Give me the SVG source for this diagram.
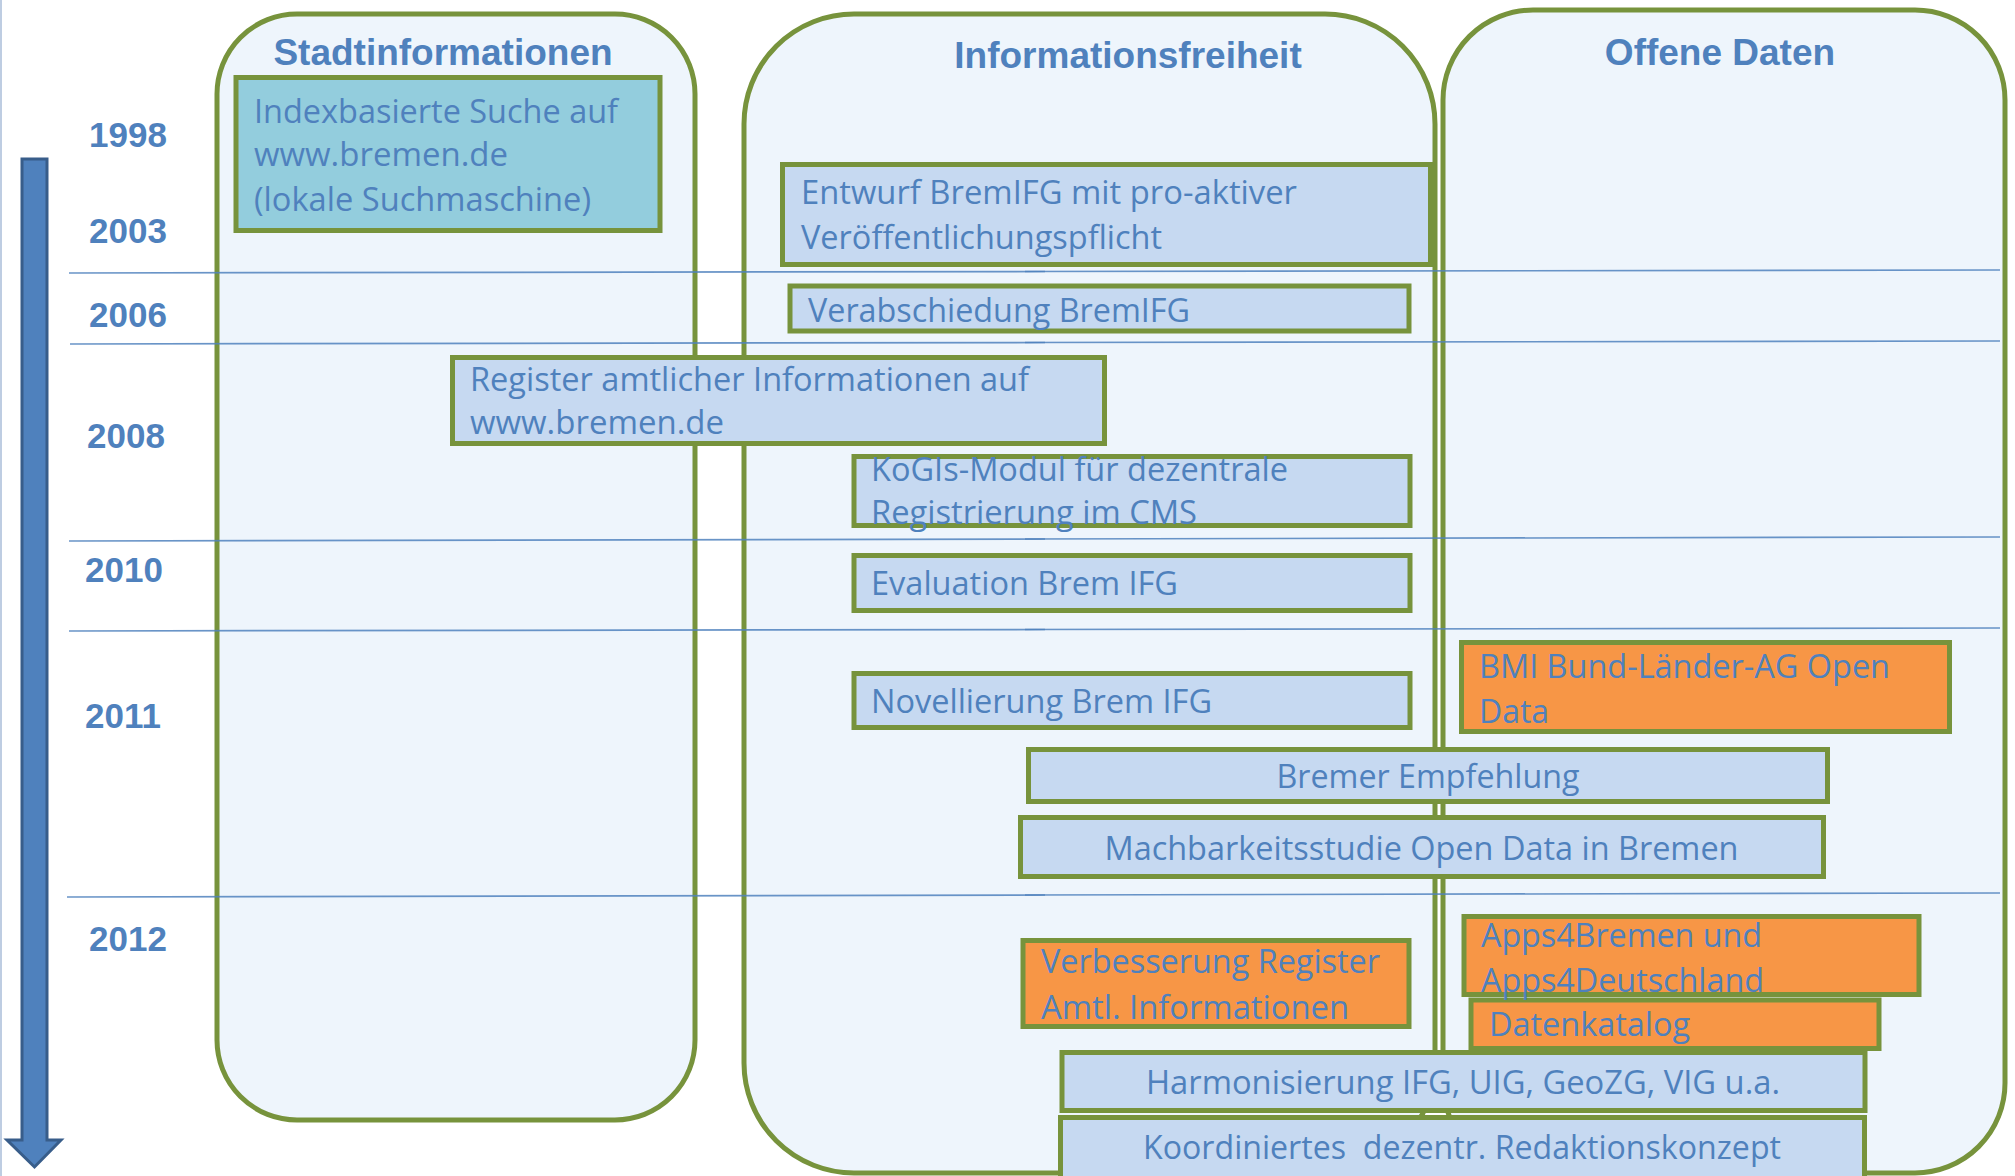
<svg xmlns="http://www.w3.org/2000/svg" width="2015" height="1176" viewBox="0 0 2015 1176">
<style>
.panel{fill:#EEF5FC;stroke:#77933C;stroke-width:5}
.box{fill:#C6D9F1;stroke:#77933C;stroke-width:5}
.teal{fill:#93CDDD;stroke:#77933C;stroke-width:5}
.orange{fill:#F79646;stroke:#77933C;stroke-width:5}
.t{font-family:"Open Sans","Liberation Sans",sans-serif;font-size:32px;fill:#4F81BD}
.c{text-anchor:middle}
.title{font-family:"Liberation Sans",Arial,sans-serif;font-weight:bold;font-size:37px;fill:#4F81BD;text-anchor:middle}
.year{font-family:"Liberation Sans",Arial,sans-serif;font-weight:bold;font-size:35px;fill:#4F81BD}
.ln{stroke:#4F81BD;stroke-width:1.7;opacity:0.85;fill:none}
</style>
<rect width="2015" height="1176" fill="#FFFFFF"/>
<line x1="1" y1="0" x2="1" y2="1176" stroke="#A9BCD8" stroke-width="1.5"/>

<g id="panel-stadtinformationen">
<rect class="panel" x="217" y="14" width="478" height="1106" rx="80" ry="80"/>
<text class="title" x="443" y="65">Stadtinformationen</text>
</g>
<g id="panel-informationsfreiheit">
<rect class="panel" x="744" y="14" width="691" height="1159" rx="110" ry="110"/>
<text class="title" x="1128" y="68">Informationsfreiheit</text>
</g>
<g id="panel-offene-daten">
<rect class="panel" x="1443" y="10" width="562" height="1163" rx="90" ry="90"/>
<text class="title" x="1720" y="65">Offene Daten</text>
</g>

<g id="connectors">
<line class="ln" x1="69" y1="273" x2="1045" y2="271.5"/>
<line class="ln" x1="1025" y1="271.5" x2="2000" y2="270"/>
<line class="ln" x1="70" y1="344" x2="1045" y2="342.5"/>
<line class="ln" x1="1025" y1="342.5" x2="2000" y2="341"/>
<line class="ln" x1="69" y1="541" x2="1045" y2="539"/>
<line class="ln" x1="1025" y1="539" x2="2000" y2="537"/>
<line class="ln" x1="69" y1="631" x2="1045" y2="629.5"/>
<line class="ln" x1="1025" y1="629.5" x2="2000" y2="628"/>
<line class="ln" x1="67" y1="897" x2="1045" y2="895"/>
<line class="ln" x1="1025" y1="895" x2="2000" y2="893"/>
</g>

<g id="timeline-arrow">
<polygon points="22,159 47,159 47,1140 61,1140 34.5,1167 7,1140 22,1140" fill="#4F81BD" stroke="#385D8A" stroke-width="3" stroke-linejoin="miter"/>
</g>

<g id="years">
<text class="year" x="89" y="147">1998</text>
<text class="year" x="89" y="243">2003</text>
<text class="year" x="89" y="327">2006</text>
<text class="year" x="87" y="448">2008</text>
<text class="year" x="85" y="582">2010</text>
<text class="year" x="85" y="728">2011</text>
<text class="year" x="89" y="951">2012</text>
</g>

<g id="node-indexsuche">
<rect class="teal" x="236" y="77.5" width="424" height="153"/>
<text class="t" x="254" y="122.5" textLength="364" lengthAdjust="spacingAndGlyphs">Indexbasierte Suche auf</text>
<text class="t" x="254" y="166" textLength="254" lengthAdjust="spacingAndGlyphs">www.bremen.de</text>
<text class="t" x="254" y="210.5" textLength="337" lengthAdjust="spacingAndGlyphs">(lokale Suchmaschine)</text>
</g>
<g id="node-entwurf">
<rect class="box" x="782.5" y="164.5" width="648" height="100"/>
<text class="t" x="801" y="203.5" textLength="496" lengthAdjust="spacingAndGlyphs">Entwurf BremIFG mit pro-aktiver</text>
<text class="t" x="801" y="248.5" textLength="361" lengthAdjust="spacingAndGlyphs">Veröffentlichungspflicht</text>
</g>
<g id="node-verabschiedung">
<rect class="box" x="790" y="286" width="619" height="45"/>
<text class="t" x="808" y="321.5" textLength="382" lengthAdjust="spacingAndGlyphs">Verabschiedung BremIFG</text>
</g>
<g id="node-register">
<rect class="box" x="452.5" y="357.5" width="652" height="86"/>
<text class="t" x="470" y="390.5" textLength="559" lengthAdjust="spacingAndGlyphs">Register amtlicher Informationen auf</text>
<text class="t" x="470" y="433.5" textLength="254" lengthAdjust="spacingAndGlyphs">www.bremen.de</text>
</g>
<g id="node-kogis">
<rect class="box" x="854" y="456.5" width="556" height="69"/>
<text class="t" x="871" y="480.5" textLength="417" lengthAdjust="spacingAndGlyphs">KoGIs-Modul für dezentrale</text>
<text class="t" x="871" y="523.5" textLength="326" lengthAdjust="spacingAndGlyphs">Registrierung im CMS</text>
</g>
<g id="node-evaluation">
<rect class="box" x="854" y="555.5" width="556" height="55"/>
<text class="t" x="871" y="594.5" textLength="307" lengthAdjust="spacingAndGlyphs">Evaluation Brem IFG</text>
</g>
<g id="node-novellierung">
<rect class="box" x="854" y="673.5" width="556" height="54"/>
<text class="t" x="871" y="712.5" textLength="341" lengthAdjust="spacingAndGlyphs">Novellierung Brem IFG</text>
</g>
<g id="node-bmi">
<rect class="orange" x="1461.5" y="642.5" width="488" height="89"/>
<text class="t" x="1479" y="677.5" textLength="411" lengthAdjust="spacingAndGlyphs">BMI Bund-Länder-AG Open</text>
<text class="t" x="1479" y="722.5" textLength="70" lengthAdjust="spacingAndGlyphs">Data</text>
</g>
<g id="node-bremer-empfehlung">
<rect class="box" x="1028.5" y="749.5" width="799" height="52"/>
<text class="t c" x="1428" y="787.5" textLength="303" lengthAdjust="spacingAndGlyphs">Bremer Empfehlung</text>
</g>
<g id="node-machbarkeitsstudie">
<rect class="box" x="1020.5" y="817.5" width="803" height="59"/>
<text class="t c" x="1421.5" y="859.5" textLength="634" lengthAdjust="spacingAndGlyphs">Machbarkeitsstudie Open Data in Bremen</text>
</g>
<g id="node-verbesserung">
<rect class="orange" x="1023" y="940.5" width="386" height="86"/>
<text class="t" x="1041" y="972.5" textLength="339" lengthAdjust="spacingAndGlyphs">Verbesserung Register</text>
<text class="t" x="1041" y="1018.5" textLength="308" lengthAdjust="spacingAndGlyphs">Amtl. Informationen</text>
</g>
<g id="node-datenkatalog">
<rect class="orange" x="1471" y="1000" width="408" height="48.5"/>
<text class="t" x="1489" y="1035.5" textLength="201" lengthAdjust="spacingAndGlyphs">Datenkatalog</text>
</g>
<g id="node-apps4">
<rect class="orange" x="1464" y="916.5" width="455" height="78"/>
<text class="t" x="1481" y="946.5" textLength="281" lengthAdjust="spacingAndGlyphs">Apps4Bremen und</text>
<text class="t" x="1481" y="991.5" textLength="283" lengthAdjust="spacingAndGlyphs">Apps4Deutschland</text>
</g>
<g id="node-harmonisierung">
<rect class="box" x="1062" y="1052.5" width="803" height="58"/>
<text class="t c" x="1463" y="1093.5" textLength="634" lengthAdjust="spacingAndGlyphs">Harmonisierung IFG, UIG, GeoZG, VIG u.a.</text>
</g>
<g id="node-koordiniertes">
<rect class="box" x="1060.5" y="1117.5" width="804" height="80"/>
<text class="t c" x="1462" y="1158.5" textLength="638" lengthAdjust="spacingAndGlyphs" xml:space="preserve" style="white-space:pre">Koordiniertes  dezentr. Redaktionskonzept</text>
</g>
</svg>
